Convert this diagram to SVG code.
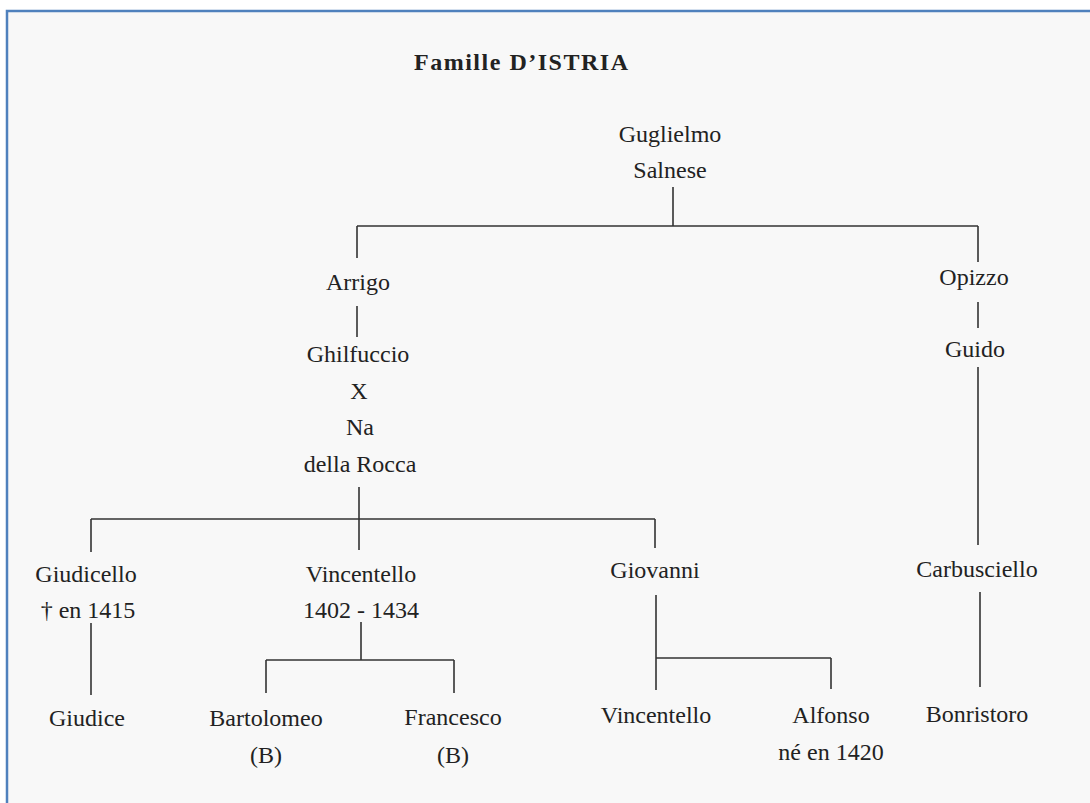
<svg xmlns="http://www.w3.org/2000/svg" width="1090" height="803" viewBox="0 0 1090 803">
<style>
.t{font-family:"Liberation Serif","Times New Roman",serif;font-size:24px;fill:#222;text-anchor:middle}
.title{font-family:"Liberation Serif","Times New Roman",serif;font-size:24px;font-weight:bold;fill:#222;text-anchor:middle}
.c{stroke:#333;stroke-width:1.6;fill:none}
</style>
<rect x="0" y="0" width="1090" height="803" fill="#ffffff"/>
<rect x="7" y="11" width="1200" height="900" fill="#f8f8f8" stroke="#4f81bd" stroke-width="2.5"/>
<text class="title" x="521" y="70" textLength="214">Famille D’ISTRIA</text>
<g id="connectors" class="c">
<path d="M673 187V226M357 226H978M357 226V258M978 226V262"/>
<path d="M357 306V337"/>
<path d="M359 487V550M91 519H655M91 519V552M655 519V548"/>
<path d="M91 623V695"/>
<path d="M361 622V660M266 660H454M266 660V693M454 660V693"/>
<path d="M656 595V690M656 658H831M831 658V689"/>
<path d="M978 302V328"/>
<path d="M978 367V545"/>
<path d="M980 592V687"/>
</g>
<g id="guglielmo"><text class="t" x="670" y="142">Guglielmo</text><text class="t" x="670" y="178">Salnese</text></g>
<g id="arrigo"><text class="t" x="358" y="290">Arrigo</text></g>
<g id="ghilfuccio"><text class="t" x="358" y="362">Ghilfuccio</text><text class="t" x="359" y="399">X</text><text class="t" x="360" y="435">Na</text><text class="t" x="360" y="472">della Rocca</text></g>
<g id="opizzo"><text class="t" x="974" y="285">Opizzo</text></g>
<g id="guido"><text class="t" x="975" y="357">Guido</text></g>
<g id="giudicello"><text class="t" x="86" y="582">Giudicello</text><text class="t" x="88" y="618">† en 1415</text></g>
<g id="vincentello1"><text class="t" x="361" y="582">Vincentello</text><text class="t" x="361" y="618">1402 - 1434</text></g>
<g id="giovanni"><text class="t" x="655" y="578">Giovanni</text></g>
<g id="carbusciello"><text class="t" x="977" y="577">Carbusciello</text></g>
<g id="giudice"><text class="t" x="87" y="726">Giudice</text></g>
<g id="bartolomeo"><text class="t" x="266" y="726">Bartolomeo</text><text class="t" x="266" y="763">(B)</text></g>
<g id="francesco"><text class="t" x="453" y="725">Francesco</text><text class="t" x="453" y="763">(B)</text></g>
<g id="vincentello2"><text class="t" x="656" y="723">Vincentello</text></g>
<g id="alfonso"><text class="t" x="831" y="723">Alfonso</text><text class="t" x="831" y="760">né en 1420</text></g>
<g id="bonristoro"><text class="t" x="977" y="722">Bonristoro</text></g>
</svg>
